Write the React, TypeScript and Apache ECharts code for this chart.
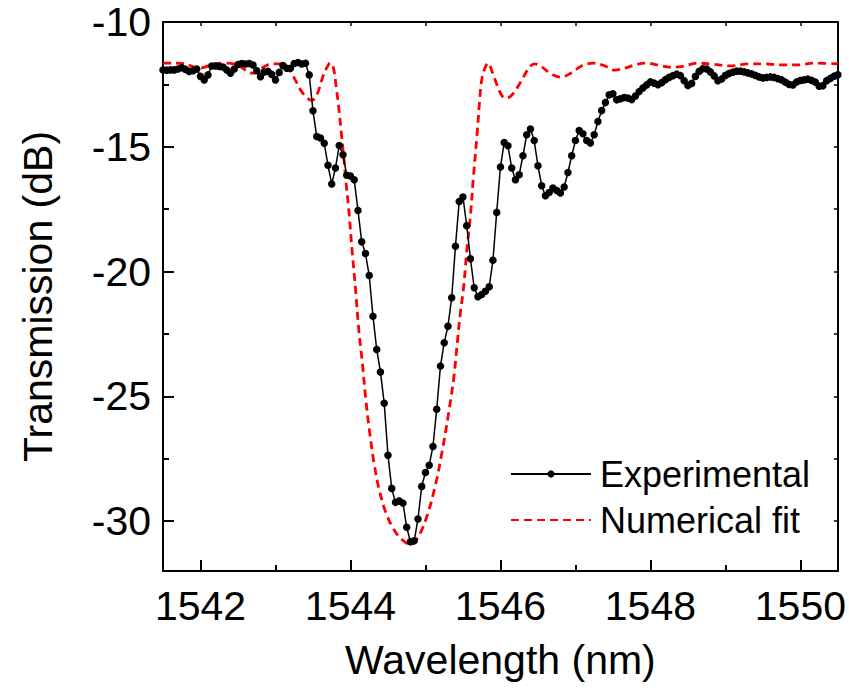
import React, { useEffect, useRef } from "react";
import * as echarts from "echarts";

// Experimental transmission (dB), sampled every 0.05 nm from 1541.5 nm
const expStart = 1541.5;
const expStep = 0.05;
const expTransmission = [
  -11.92, -11.93, -11.92, -11.92, -11.88, -11.83, -11.9, -11.98, -11.95, -11.88,
  -12.18, -12.32, -12.12, -11.76, -11.76, -11.78, -11.8, -11.92, -12.05, -11.88,
  -11.7, -11.66, -11.68, -11.66, -11.72, -11.95, -12.19, -12.0, -11.98, -12.1,
  -12.32, -12.02, -11.74, -11.85, -11.85, -11.66, -11.62, -11.68, -11.65, -12.12,
  -13.56, -14.59, -14.65, -14.86, -15.74, -16.49, -15.85, -14.95, -15.32, -16.14,
  -16.17, -16.32, -17.55, -18.81, -19.28, -20.16, -21.79, -23.12, -24.03, -25.28,
  -27.36, -28.69, -29.25, -29.19, -29.28, -30.25, -30.83, -30.79, -29.92, -28.61,
  -28.05, -27.76, -27.01, -25.52, -23.79, -22.85, -22.19, -21.05, -18.99, -17.19,
  -17.01, -18.16, -19.49, -20.65, -21.01, -20.92, -20.79, -20.61, -19.55, -17.63,
  -15.81, -14.83, -14.96, -15.85, -16.32, -16.12, -15.36, -14.52, -14.29, -14.75,
  -15.76, -16.56, -16.96, -16.83, -16.65, -16.75, -16.85, -16.61, -16.03, -15.36,
  -14.75, -14.35, -14.48, -14.75, -14.85, -14.52, -13.99, -13.55, -13.23, -12.92,
  -12.88, -13.12, -13.08, -13.03, -13.05, -13.11, -12.97, -12.79, -12.64, -12.52,
  -12.4, -12.45, -12.51, -12.43, -12.31, -12.22, -12.15, -12.09, -12.15, -12.35,
  -12.54, -12.46, -12.18, -11.98, -11.87, -11.88, -12.0, -12.16, -12.35, -12.28,
  -12.14, -12.06, -12.01, -11.97, -11.97, -12.0, -12.04, -12.08, -12.14, -12.2,
  -12.24, -12.22, -12.2, -12.22, -12.27, -12.32, -12.41, -12.5, -12.52, -12.4,
  -12.34, -12.32, -12.29, -12.34, -12.41, -12.57, -12.55, -12.35, -12.26, -12.17,
  -12.11,
];

// Numerical fit
const fitWavelength = [
  1541.5, 1541.65, 1541.79, 1541.89, 1541.96, 1542.05, 1542.15, 1542.32, 1542.49, 1542.61,
  1542.68, 1542.74, 1542.82, 1542.94, 1543.09, 1543.18, 1543.26, 1543.34, 1543.41, 1543.48,
  1543.53, 1543.58, 1543.63, 1543.69, 1543.73, 1543.77, 1543.81, 1543.85, 1543.88, 1543.91,
  1543.94, 1543.98, 1544.02, 1544.07, 1544.11, 1544.16, 1544.2, 1544.25, 1544.31, 1544.38,
  1544.47, 1544.58, 1544.69, 1544.8, 1544.91, 1545.02, 1545.13, 1545.22, 1545.31, 1545.38,
  1545.42, 1545.46, 1545.51, 1545.55, 1545.6, 1545.64, 1545.69, 1545.72, 1545.75, 1545.8,
  1545.84, 1545.88, 1545.93, 1545.99, 1546.06, 1546.13, 1546.22, 1546.31, 1546.39, 1546.46,
  1546.55, 1546.66, 1546.81, 1546.95, 1547.08, 1547.24, 1547.39, 1547.52, 1547.66, 1547.79,
  1547.94, 1548.1, 1548.26, 1548.41, 1548.63, 1548.81, 1549.07, 1549.3, 1549.52, 1549.74,
  1549.96, 1550.18, 1550.5,
];
const fitTransmission = [
  -11.65, -11.65, -11.67, -11.78, -11.85, -11.82, -11.7, -11.65, -11.72, -11.95,
  -12.05, -12.02, -11.85, -11.68, -11.68, -11.9, -12.3, -12.75, -13.0, -13.14,
  -13.05, -12.7, -12.2, -11.8, -11.64, -11.8, -12.6, -13.6, -14.5, -15.4,
  -16.4, -17.6, -19.1, -20.8, -22.3, -23.7, -25.0, -26.3, -27.6, -28.7,
  -29.65, -30.35, -30.75, -30.95, -30.6, -29.8, -28.6, -27.25, -25.65, -24.2,
  -23.0, -21.8, -20.6, -19.2, -17.75, -16.2, -14.45, -13.25, -12.32, -11.79,
  -11.65, -11.92, -12.32, -12.79, -13.05, -12.99, -12.65, -12.19, -11.79, -11.68,
  -11.79, -12.05, -12.21, -12.03, -11.76, -11.65, -11.76, -11.93, -11.85, -11.72,
  -11.65, -11.72, -11.81, -11.79, -11.65, -11.68, -11.76, -11.68, -11.68, -11.72,
  -11.72, -11.65, -11.68,
];

const seriesNames = ["Experimental", "Numerical fit"];
const xTitle = "Wavelength (nm)";
const yTitle = "Transmission (dB)";
const xMin = 1541.5;
const xMax = 1550.5;
const yMin = -32;
const yMax = -10;

const FONT = "'Liberation Sans', Arial, Helvetica, sans-serif";

export default function App() {
  const ref = useRef<HTMLDivElement>(null);
  useEffect(() => {
    if (!ref.current) return;
    const chart = echarts.init(ref.current, null, { renderer: "svg" });
    const expData = expTransmission.map((v, i) => [
      +(expStart + i * expStep).toFixed(2),
      v,
    ]);
    const fitData = fitWavelength.map((w, i) => [w, fitTransmission[i]]);
    const axisLine = { show: true, lineStyle: { color: "#000", width: 2 } };
    chart.setOption({
      animation: false,
      backgroundColor: "#fff",
      grid: { left: 163, right: 8, top: 22, bottom: 122, containLabel: false },
      legend: {
        orient: "vertical",
        left: 505,
        top: 451,
        itemWidth: 80,
        itemHeight: 9,
        itemGap: 10,
        data: seriesNames,
        textStyle: { fontSize: 36, fontFamily: FONT, color: "#000", padding: [0, 0, 0, 4] },
      },
      xAxis: [
        {
          type: "value",
          min: xMin,
          max: xMax,
          name: xTitle,
          nameLocation: "middle",
          nameGap: 68,
          nameTextStyle: { fontSize: 41, fontFamily: FONT, color: "#000" },
          axisLine,
          axisTick: { show: true, inside: true, length: 11, lineStyle: { color: "#000", width: 2 } },
          minorTick: { show: true, splitNumber: 2, length: 6, lineStyle: { color: "#000", width: 2 } },
          axisLabel: {
            margin: 14,
            fontSize: 41,
            fontFamily: FONT,
            color: "#000",
            formatter: (v: number) => (Math.abs(v % 2) < 1e-6 ? String(v) : ""),
          },
          splitLine: { show: false },
        },
        {
          type: "value",
          position: "top",
          min: xMin,
          max: xMax,
          axisLine,
          axisTick: { show: true, inside: true, length: 4, lineStyle: { color: "#000", width: 1.5 } },
          minorTick: { show: true, splitNumber: 2, length: 4, lineStyle: { color: "#000", width: 1.5 } },
          axisLabel: { show: false },
          splitLine: { show: false },
        },
      ],
      yAxis: [
        {
          type: "value",
          min: yMin,
          max: yMax,
          name: yTitle,
          nameLocation: "middle",
          nameGap: 105,
          nameTextStyle: { fontSize: 41, fontFamily: FONT, color: "#000" },
          axisLine,
          axisTick: { show: true, inside: true, length: 11, lineStyle: { color: "#000", width: 2 } },
          minorTick: { show: true, splitNumber: 2, length: 6, lineStyle: { color: "#000", width: 2 } },
          axisLabel: {
            margin: 12,
            fontSize: 41,
            fontFamily: FONT,
            color: "#000",
            formatter: (v: number) => (Math.abs(v % 5) < 1e-6 ? String(v) : ""),
          },
          splitLine: { show: false },
        },
        {
          type: "value",
          position: "right",
          min: yMin,
          max: yMax,
          axisLine,
          axisTick: { show: true, inside: true, length: 4, lineStyle: { color: "#000", width: 1.5 } },
          minorTick: { show: true, splitNumber: 2, length: 4, lineStyle: { color: "#000", width: 1.5 } },
          axisLabel: { show: false },
          splitLine: { show: false },
        },
      ],
      series: [
        {
          name: seriesNames[0],
          type: "line",
          data: expData,
          xAxisIndex: 0,
          yAxisIndex: 0,
          symbol: "circle",
          symbolSize: 7.5,
          showAllSymbol: true,
          itemStyle: { color: "#000" },
          lineStyle: { color: "#000", width: 1.5 },
          z: 3,
        },
        {
          name: seriesNames[1],
          type: "line",
          data: fitData,
          xAxisIndex: 0,
          yAxisIndex: 0,
          symbol: "none",
          smooth: 0.35,
          itemStyle: { color: "rgba(0,0,0,0)" },
          lineStyle: { color: "#ff0000", width: 2.8, type: [8, 5] },
          z: 2,
        },
      ],
    });
    return () => chart.dispose();
  }, []);
  return (
    <div
      ref={ref}
      style={{ position: "absolute", left: 0, top: 0, width: 849, height: 693 }}
    />
  );
}
